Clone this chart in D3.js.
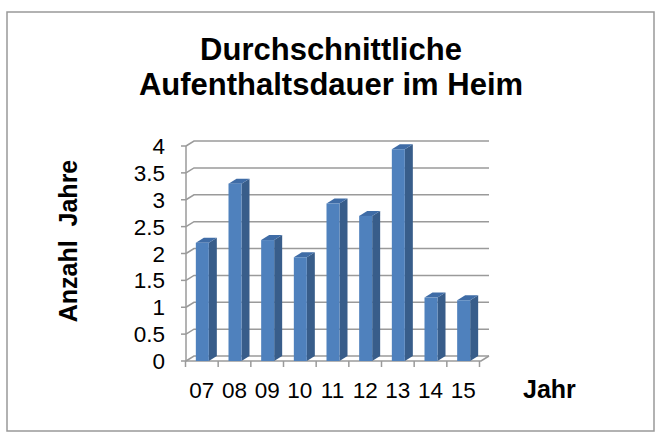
<!DOCTYPE html>
<html>
<head>
<meta charset="utf-8">
<script src="https://cdn.jsdelivr.net/npm/d3@7"></script>
<style>
  body { margin: 0; background: #fff; }
  text { font-family: "Liberation Sans", Arial, sans-serif; fill: #000; }
</style>
</head>
<body>
<div id="bar_chart"></div>
<script>
// chart data
const years = ["07", "08", "09", "10", "11", "12", "13", "14", "15"];
const dauer = [2.2, 3.3, 2.25, 1.93, 2.93, 2.7, 3.94, 1.18, 1.13];
const yTicks = [0, 0.5, 1, 1.5, 2, 2.5, 3, 3.5, 4];
const titleLines = ["Durchschnittliche", "Aufenthaltsdauer im Heim"];

function create_bar_chart(width, height) {
    const svg = d3.select("#bar_chart")
        .append("svg")
        .attr("width", width)
        .attr("height", height);

    // outer frame
    svg.append("rect")
        .attr("x", 7)
        .attr("y", 12)
        .attr("width", 647)
        .attr("height", 419)
        .attr("fill", "#fff")
        .attr("stroke", "#999")
        .attr("stroke-width", 1.5);

    // front plane of the plot
    const plot = { left: 186, right: 481, top: 146, bottom: 361 };
    // 3d depth offset (back wall + bar depth)
    const dx = 8, dy = -5;

    const xScale = d3.scaleBand()
        .domain(years)
        .range([plot.left - 0.5, plot.right - 1.5]);

    const yScale = d3.scaleLinear()
        .domain([0, 4])
        .range([plot.bottom, plot.top]);

    const grid = svg.append("g")
        .attr("stroke", "#9a9a9a")
        .attr("stroke-width", 1.5)
        .attr("fill", "none");

    // back wall gridlines with the little diagonal at the left
    grid.selectAll(".gridline")
        .data(yTicks)
        .enter().append("path")
        .attr("class", "gridline")
        .attr("d", d => `M${plot.left},${yScale(d)} L${plot.left + dx},${yScale(d) + dy} L${plot.right + dx},${yScale(d) + dy}`);

    // front y axis with ticks
    grid.append("path")
        .attr("d", `M${plot.left},${plot.top} L${plot.left},${plot.bottom}`);
    grid.selectAll(".ytick")
        .data(yTicks)
        .enter().append("path")
        .attr("class", "ytick")
        .attr("d", d => `M${plot.left - 5},${yScale(d)} L${plot.left},${yScale(d)}`);

    // floor: front edge + right diagonal
    grid.append("path")
        .attr("d", `M${plot.left},${plot.bottom} L${plot.right},${plot.bottom} L${plot.right + dx},${plot.bottom + dy}`);

    // x ticks below the floor
    const xTickPos = years.map(d => xScale(d)).concat([xScale(years[years.length - 1]) + xScale.bandwidth()]);
    grid.selectAll(".xtick")
        .data(xTickPos)
        .enter().append("path")
        .attr("class", "xtick")
        .attr("d", d => `M${d},${plot.bottom} L${d},${plot.bottom + 6}`);

    // bars (front, side, top)
    const barW = 13;
    const bars = svg.append("g").selectAll(".bar")
        .data(dauer)
        .enter().append("g")
        .attr("class", "bar");

    const bx = (d, i) => xScale(years[i]) + (xScale.bandwidth() - barW) / 2 + 0.5;

    bars.append("path")
        .attr("fill", "#385d8a")
        .attr("d", (d, i) => {
            const x1 = bx(d, i) + barW, y1 = yScale(d), y0 = yScale(0);
            return `M${x1},${y1} L${x1 + dx},${y1 + dy} L${x1 + dx},${y0 + dy} L${x1},${y0} Z`;
        });
    bars.append("path")
        .attr("fill", "#3f6ca6")
        .attr("d", (d, i) => {
            const x0 = bx(d, i), y1 = yScale(d);
            return `M${x0},${y1} L${x0 + dx},${y1 + dy} L${x0 + barW + dx},${y1 + dy} L${x0 + barW},${y1} Z`;
        });
    bars.append("rect")
        .attr("fill", "#4f81bd")
        .attr("x", (d, i) => bx(d, i))
        .attr("y", d => yScale(d))
        .attr("width", barW)
        .attr("height", d => yScale(0) - yScale(d));

    // y tick labels
    svg.append("g").selectAll(".ylab")
        .data(yTicks)
        .enter().append("text")
        .attr("class", "ylab")
        .attr("x", 165)
        .attr("y", d => yScale(d))
        .attr("dy", "0.36em")
        .attr("text-anchor", "end")
        .style("font-size", "22.5px")
        .text(d => d);

    // x tick labels
    svg.append("g").selectAll(".xlab")
        .data(years)
        .enter().append("text")
        .attr("class", "xlab")
        .attr("x", d => xScale(d) + xScale.bandwidth() / 2)
        .attr("y", 398)
        .attr("text-anchor", "middle")
        .style("font-size", "22.5px")
        .text(d => d);

    // title
    svg.append("g").selectAll(".title")
        .data(titleLines)
        .enter().append("text")
        .attr("class", "title")
        .attr("x", 331)
        .attr("y", (d, i) => 60 + i * 35)
        .attr("text-anchor", "middle")
        .style("font-size", "31px")
        .style("font-weight", "bold")
        .text(d => d);

    // x axis lable
    svg.append("text")
        .attr("x", 523)
        .attr("y", 398)
        .style("font-size", "25px")
        .style("font-weight", "bold")
        .text("Jahr");

    // y axis lable
    svg.append("text")
        .attr("text-anchor", "middle")
        .attr("transform", "translate(77,241) rotate(-90)")
        .style("font-size", "25px")
        .style("font-weight", "bold")
        .style("white-space", "pre")
        .text("Anzahl  Jahre");
}

create_bar_chart(664, 436);
</script>
</body>
</html>
